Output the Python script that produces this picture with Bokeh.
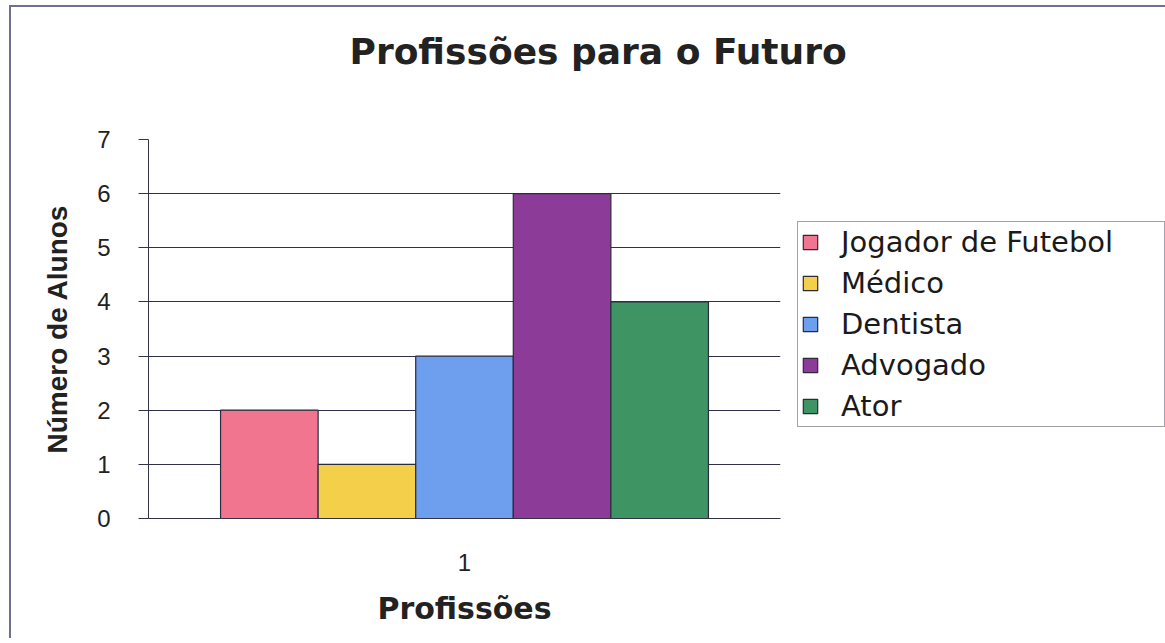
from bokeh.plotting import figure
from bokeh.models import FactorRange, Range1d, FixedTicker, Legend, LegendItem, ColumnDataSource, Title, Grid
from bokeh.transform import dodge
from bokeh.embed import file_html
from bokeh.resources import INLINE

title_text = "Profissões para o Futuro"
x_label = "Profissões"
y_label = "Número de Alunos"
groups = ["1"]
categories = ["Jogador de Futebol", "Médico", "Dentista", "Advogado", "Ator"]
values = [2, 1, 3, 6, 4]
colors = ["#F27590", "#F4D04A", "#6E9FEE", "#8C3B98", "#3E9462"]
y_ticks = [0, 1, 2, 3, 4, 5, 6, 7]

p = figure(
    x_range=FactorRange(factors=groups, range_padding=0),
    y_range=Range1d(0, 7),
    frame_width=632, frame_height=379,
    min_border_left=137, min_border_right=380,
    min_border_top=130, min_border_bottom=120,
    output_backend="svg", toolbar_location=None,
    background_fill_color="white", border_fill_color="white",
)
p.styles = {"margin-left": "9px", "margin-top": "5px",
            "border-left": "2px solid #6f6f8f", "border-top": "2px solid #6f6f8f"}

# spacer between frame and title (closest to frame)
p.add_layout(Title(text=" ", text_font_size="10px", standoff=34), "above")

p.title.text = title_text
p.title.text_font = "DejaVu Sans"
p.title.text_font_style = "bold"
p.title.text_font_size = "36px"
p.title.text_color = "#222222"
p.title.align = "left"
p.title.offset = 201
p.title.standoff = 42

bar_w = 0.1544
n = len(categories)
items = []
for i, (cat, val, col) in enumerate(zip(categories, values, colors)):
    src = ColumnDataSource(dict(x=groups, top=[val]))
    r = p.vbar(x=dodge("x", (i - (n - 1) / 2) * bar_w, range=p.x_range), top="top", bottom=0,
               width=bar_w, source=src, fill_color=col, line_color="#2b2b3b", line_width=1.2)
    items.append(LegendItem(label=cat, renderers=[r]))

legend = Legend(items=items, location=(17, 91))
legend.label_text_font = "DejaVu Sans"
legend.label_text_font_size = "29px"
legend.label_text_color = "#1a1a1a"
legend.glyph_width = 18
legend.glyph_height = 18
legend.label_standoff = 22
legend.label_height = 34
legend.label_width = 320
legend.spacing = 7
legend.padding = 3
legend.margin = 0
legend.border_line_color = "#444455"
legend.border_line_width = 1.5
legend.background_fill_color = "white"
legend.background_fill_alpha = 1
p.add_layout(legend, "right")

# axes
p.yaxis.ticker = FixedTicker(ticks=y_ticks)
p.yaxis.axis_label = y_label
p.yaxis.axis_label_text_font = "Liberation Sans"
p.yaxis.axis_label_text_font_style = "bold"
p.yaxis.axis_label_text_font_size = "28px"
p.yaxis.axis_label_text_color = "#222222"
p.yaxis.axis_label_standoff = 21
p.yaxis.major_label_text_font = "Liberation Sans"
p.yaxis.major_label_text_font_size = "24px"
p.yaxis.major_label_text_color = "#222222"
p.yaxis.major_label_standoff = 28
p.yaxis.major_tick_out = 10
p.yaxis.major_tick_in = 0
p.yaxis.minor_tick_line_color = None
p.yaxis.axis_line_color = "#333344"
p.yaxis.major_tick_line_color = "#333344"

p.xaxis.axis_label = x_label
p.xaxis.axis_label_text_font = "DejaVu Sans"
p.xaxis.axis_label_text_font_style = "bold"
p.xaxis.axis_label_text_font_size = "30px"
p.xaxis.axis_label_text_color = "#222222"
p.xaxis.axis_label_standoff = 17
p.xaxis.major_label_text_font = "Liberation Sans"
p.xaxis.major_label_text_font_size = "24px"
p.xaxis.major_label_text_color = "#222222"
p.xaxis.major_label_standoff = 29
p.xaxis.major_tick_line_color = None
p.xaxis.minor_tick_line_color = None
p.xaxis.axis_line_color = "#333344"

p.xgrid.grid_line_color = None
p.ygrid.ticker = FixedTicker(ticks=[1, 2, 3, 4, 5, 6])
p.ygrid.grid_line_color = "#30304a"
p.ygrid.grid_line_width = 1.2
top_grid = Grid(dimension=1, ticker=FixedTicker(ticks=[7]),
                grid_line_color="#c8c8d0", grid_line_dash="2 2", grid_line_width=1)
p.add_layout(top_grid)
p.outline_line_color = None

open("out.html", "w").write(file_html(p, INLINE))
